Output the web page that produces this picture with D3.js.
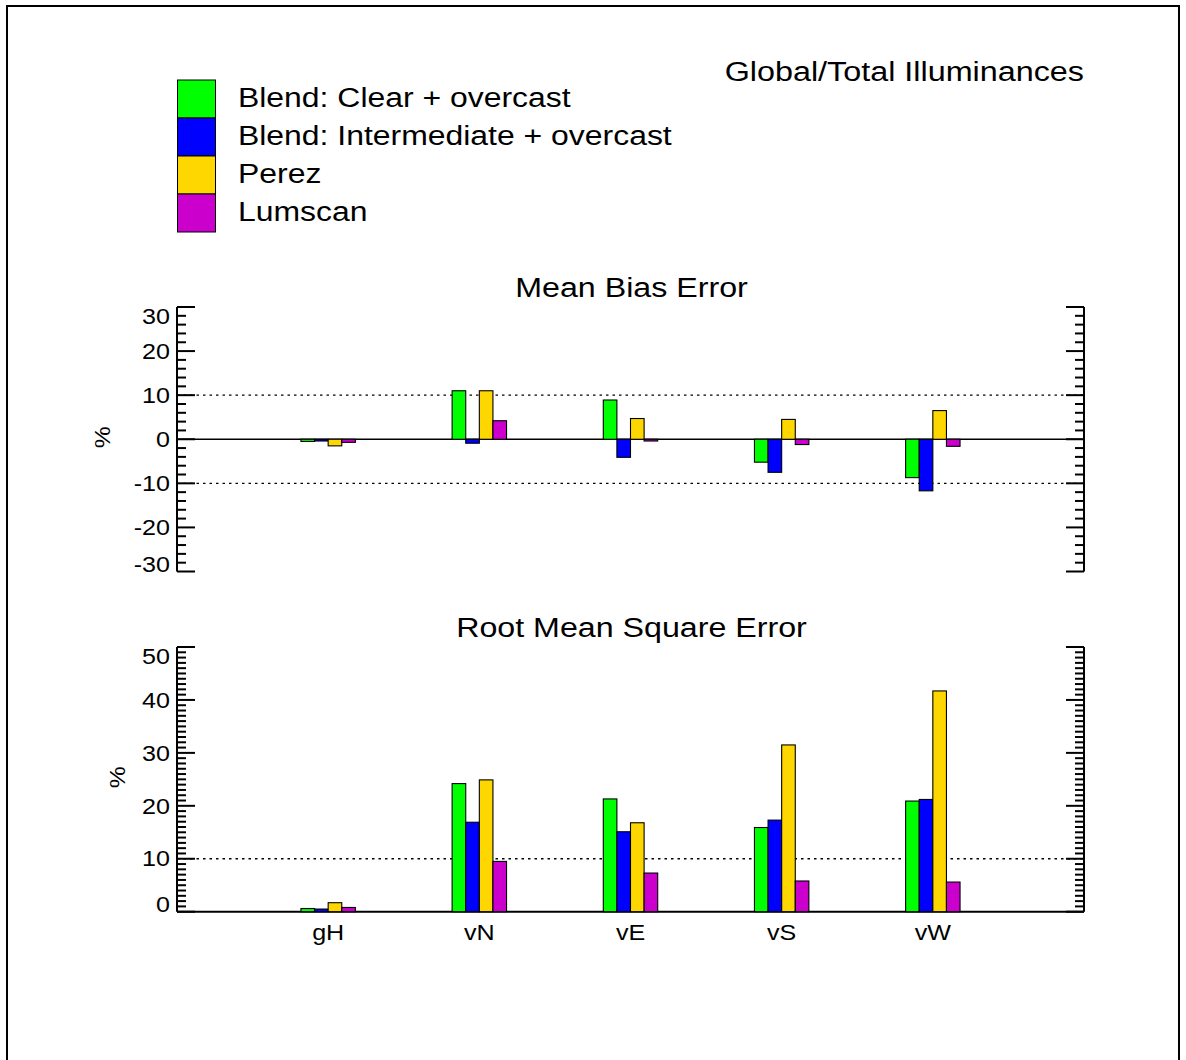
<!DOCTYPE html>
<html>
<head>
<meta charset="utf-8">
<script src="https://cdn.jsdelivr.net/npm/d3@7"></script>
<style>
  html, body { margin: 0; padding: 0; background: #fff; }
  svg { display: block; font-family: "Liberation Sans", Arial, Helvetica, sans-serif; }
</style>
</head>
<body>
<svg id="chart" width="1186" height="1060"></svg>
<script>
// Surface orientations compared
const categories = ["gH", "vN", "vE", "vS", "vW"];

// Sky models
const seriesNames = [
  "Blend: Clear + overcast",
  "Blend: Intermediate + overcast",
  "Perez",
  "Lumscan"
];
const seriesColors = ["#00ff00", "#0000ff", "#ffd700", "#cc00cc"];

// Mean bias error (%) per model, one value per orientation
const mbeClearOvercast        = [-0.5, 11.0,  8.9, -5.2,  -8.7];
const mbeIntermediateOvercast = [-0.4, -0.9, -4.1, -7.5, -11.7];
const mbePerez                = [-1.5, 11.0,  4.7,  4.5,   6.5];
const mbeLumscan              = [-0.7,  4.2, -0.4, -1.2,  -1.6];

// Root mean square error (%) per model, one value per orientation
const rmseClearOvercast        = [0.6, 24.2, 21.3, 15.9, 20.9];
const rmseIntermediateOvercast = [0.5, 16.9, 15.1, 17.3, 21.2];
const rmsePerez                = [1.7, 24.9, 16.8, 31.5, 41.7];
const rmseLumscan              = [0.8,  9.5,  7.3,  5.8,  5.6];

// Axis tick values
const mbeMajorTicks  = [-30, -20, -10, 0, 10, 20, 30];
const rmseMajorTicks = [0, 10, 20, 30, 40, 50];

const mbeSeries  = [mbeClearOvercast, mbeIntermediateOvercast, mbePerez, mbeLumscan];
const rmseSeries = [rmseClearOvercast, rmseIntermediateOvercast, rmsePerez, rmseLumscan];

const svg = d3.select("#chart");

// the lettering is a little wider than the stock face
function label(g, x, y, str, size, anchor, rotate, stretch) {
  const sx = stretch || 1.12;
  return g.append("text")
    .attr("transform", `translate(${x},${y})` + (rotate ? ` rotate(${rotate})` : "") + ` scale(${sx},1)`)
    .attr("font-size", size)
    .attr("text-anchor", anchor || "start")
    .attr("fill", "#000")
    .text(str);
}

// outer frame
svg.append("rect")
  .attr("x", 7).attr("y", 6).attr("width", 1172).attr("height", 1080)
  .attr("fill", "none").attr("stroke", "#000").attr("stroke-width", 2);

// top-right heading
label(svg, 1084, 81, "Global/Total Illuminances", 28, "end", 0, 1.155);

// legend
const legend = svg.append("g");
seriesNames.forEach((name, i) => {
  legend.append("rect")
    .attr("x", 177.5).attr("y", 80 + i * 38)
    .attr("width", 38).attr("height", 38)
    .attr("fill", seriesColors[i]).attr("stroke", "#000").attr("stroke-width", 1);
  label(legend, 238, 107 + i * 38, name, 28, "start", 0, 1.14);
});

const x = d3.scaleLinear().domain([0, categories.length + 1]).range([177, 1084]);
const barW = x(0.09) - x(0);

function panel(opts) {
  const g = svg.append("g");
  const y = d3.scaleLinear().domain(opts.domain).range([opts.bottom, opts.top]);
  const [x0, x1] = x.range();

  // title
  label(g, (x0 + x1) / 2 + 1, opts.top - 10, opts.title, 28, "middle", 0, 1.15);

  // dotted reference lines
  opts.dotted.forEach(v => {
    g.append("line")
      .attr("x1", x0).attr("x2", x1).attr("y1", y(v)).attr("y2", y(v))
      .attr("stroke", "#000").attr("stroke-width", 1.3)
      .attr("stroke-dasharray", "2.5,4");
  });

  // zero line
  g.append("line")
    .attr("x1", x0).attr("x2", x1).attr("y1", y(0)).attr("y2", y(0))
    .attr("stroke", "#000").attr("stroke-width", opts.zeroWidth);

  // bars
  opts.series.forEach((vals, si) => {
    g.selectAll(null).data(vals).enter().append("rect")
      .attr("x", (d, ci) => x(ci + 1) + (si - 2) * barW)
      .attr("width", barW)
      .attr("y", d => Math.min(y(d), y(0)))
      .attr("height", d => Math.abs(y(d) - y(0)))
      .attr("fill", seriesColors[si])
      .attr("stroke", "#000").attr("stroke-width", 1.1);
  });

  // left and right axes with inward ticks
  const minor = d3.range(opts.domain[0], opts.domain[1] + 1e-9, opts.minorStep)
    .filter(v => !opts.majors.includes(v));
  [[x0, 1], [x1, -1]].forEach(([ax, dir]) => {
    g.append("line")
      .attr("x1", ax).attr("x2", ax).attr("y1", opts.top).attr("y2", opts.bottom)
      .attr("stroke", "#000").attr("stroke-width", 2);
    opts.majors.forEach(v => {
      g.append("line")
        .attr("x1", ax).attr("x2", ax + dir * 18).attr("y1", y(v)).attr("y2", y(v))
        .attr("stroke", "#000").attr("stroke-width", 2);
    });
    minor.forEach(v => {
      g.append("line")
        .attr("x1", ax).attr("x2", ax + dir * 9).attr("y1", y(v)).attr("y2", y(v))
        .attr("stroke", "#000").attr("stroke-width", 2);
    });
  });

  // tick labels, kept inside the axis span
  opts.majors.forEach(v => {
    const base = Math.max(Math.min(y(v) + 7.7, opts.bottom), opts.top + 16.5);
    label(g, 170, base, String(v), 22, "end", 0, 1.14);
  });

  // y title
  label(g, opts.yTitleX, (opts.top + opts.bottom) / 2 + 9, "%", 22, "start", -90, 1.12);

  return { g, y };
}

panel({
  title: "Mean Bias Error",
  domain: [-30, 30], top: 307, bottom: 571.5,
  majors: mbeMajorTicks, minorStep: 2,
  dotted: [10, -10], zeroWidth: 1.3,
  series: mbeSeries, yTitleX: 110
});

panel({
  title: "Root Mean Square Error",
  domain: [0, 50], top: 647, bottom: 911.7,
  majors: rmseMajorTicks, minorStep: 1,
  dotted: [10], zeroWidth: 2,
  series: rmseSeries, yTitleX: 125
});

// category labels beneath the lower panel
categories.forEach((c, i) => {
  label(svg, x(i + 1), 940, c, 22, "middle", 0, 1.14);
});
</script>
</body>
</html>
